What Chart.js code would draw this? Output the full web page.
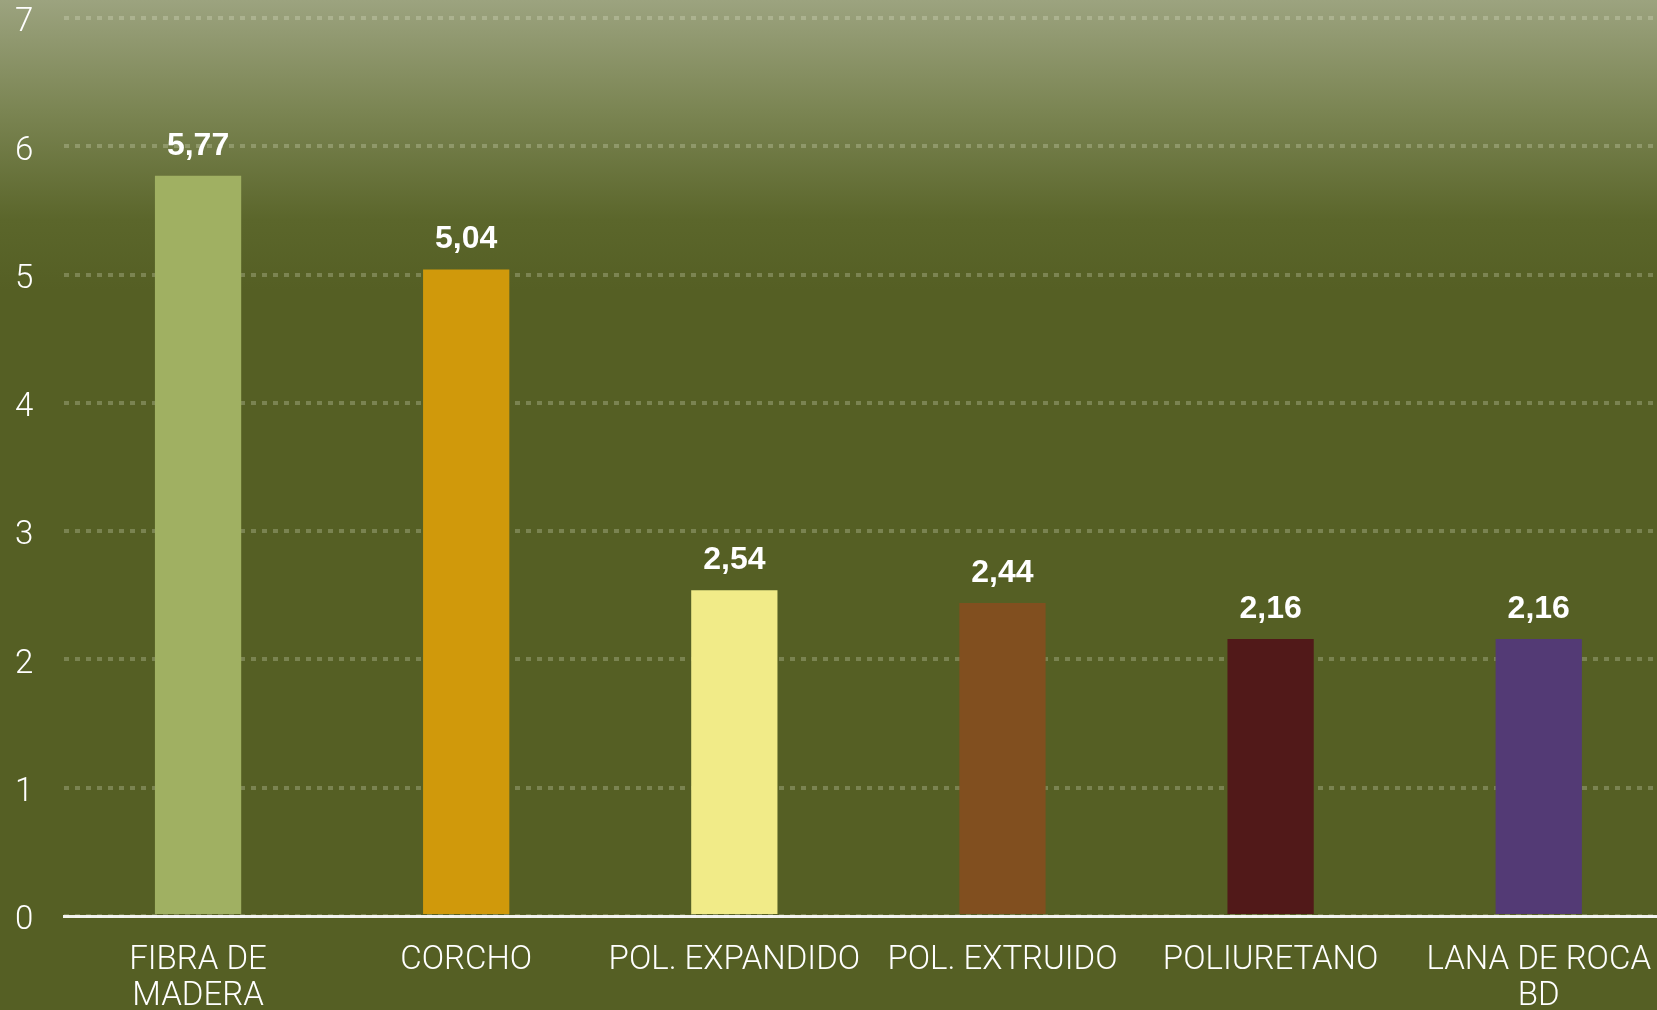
<!DOCTYPE html>
<html>
<head>
<meta charset="utf-8">
<script src="https://cdn.jsdelivr.net/npm/chart.js@4/dist/chart.umd.min.js"></script>
<style>
  html, body { margin: 0; padding: 0; }
  body {
    width: 1657px; height: 1010px; overflow: hidden;
    background: linear-gradient(to bottom, #9ca37f 0px, #7b8553 110px, #5b662b 220px, #555f24 290px, #555f24 100%);
  }
  /* plot runs a little past the right edge, as in the original */
  #wrap { position: relative; width: 1678px; height: 1010px; }
</style>
</head>
<body>
<div id="wrap"><canvas id="barchart"></canvas></div>
<script>
const categories = [["FIBRA DE", "MADERA"], "CORCHO", "POL. EXPANDIDO", "POL. EXTRUIDO", "POLIURETANO", ["LANA DE ROCA", "BD"]];
const values = [5.77, 5.04, 2.54, 2.44, 2.16, 2.16];
const barColors = ["#a0b062", "#d0990b", "#f1eb88", "#814f1f", "#511919", "#533a75"];
const yTicks = [0, 1, 2, 3, 4, 5, 6, 7];

const labelFont = "'Roboto', 'Liberation Sans', sans-serif";

// draws the value above each bar, with a decimal comma
const valueLabels = {
  id: "valueLabels",
  afterDatasetsDraw(chart) {
    const ctx = chart.ctx;
    const meta = chart.getDatasetMeta(0);
    ctx.save();
    ctx.fillStyle = "#ffffff";
    ctx.font = "bold 32px 'Liberation Sans', Arial, sans-serif";
    ctx.textAlign = "center";
    ctx.textBaseline = "bottom";
    meta.data.forEach((bar, i) => {
      ctx.fillText(values[i].toFixed(2).replace(".", ","), bar.x, bar.y - 14);
    });
    ctx.restore();
  }
};

var ctx = document.getElementById("barchart");
window.myChart = new Chart(ctx, {
  type: "bar",
  data: {
    labels: categories,
    datasets: [{
      data: values,
      backgroundColor: barColors,
      borderWidth: 0,
      barPercentage: 0.65,
      categoryPercentage: 0.495
    }]
  },
  options: {
    responsive: true,
    maintainAspectRatio: false,
    animation: false,
    layout: { padding: { top: 18, left: 15, right: 0, bottom: 0 } },
    plugins: {
      legend: { display: false },
      tooltip: { enabled: false }
    },
    scales: {
      x: {
        afterFit(axis) { axis.height = 94; },
        grid: { display: false, drawTicks: false },
        border: { display: true, color: "rgba(255,255,255,0.92)", width: 3 },
        ticks: {
          color: "#ffffff",
          font: { family: labelFont, size: 33, weight: 300, lineHeight: 1.09 },
          padding: 27,
          maxRotation: 0,
          minRotation: 0,
          autoSkip: false
        }
      },
      y: {
        min: 0,
        max: 7,
        afterBuildTicks(axis) {
          axis.ticks = yTicks.map(v => ({ value: v }));
        },
        afterFit(axis) { axis.width = 49; },
        grid: {
          color: "rgba(235,240,215,0.25)",
          lineWidth: 4,
          drawTicks: false
        },
        border: { display: false, dash: [5, 6] },
        ticks: {
          color: "#ffffff",
          font: { family: labelFont, size: 33, weight: 300, lineHeight: 1 },
          padding: 0,
          labelOffset: 5,
          crossAlign: "far"
        }
      }
    }
  },
  plugins: [valueLabels]
});
</script>
</body>
</html>
